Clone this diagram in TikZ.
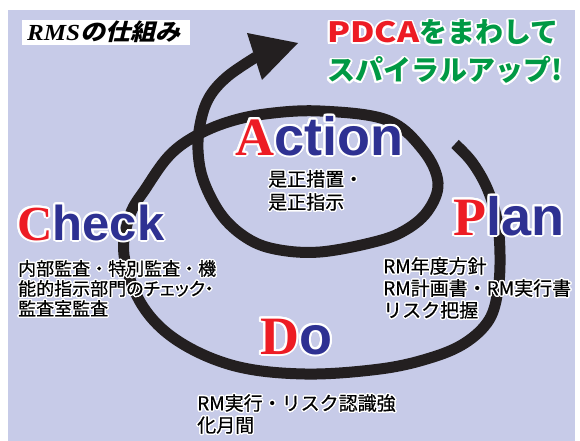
\documentclass[tikz,border=0pt]{standalone}
\usepackage{fontspec}
\usepackage{graphicx}
\usepackage{contour}
\contournumber{24}
\newfontfamily\jp{Noto Sans CJK JP}[FakeBold=0.5]
\newfontfamily\jpb{Noto Sans CJK JP}
\newfontfamily\jpp{Noto Sans CJK JP}[RawFeature=+palt, FakeBold=0.5]
\newfontfamily\jpsl{Noto Sans CJK JP}[FakeSlant=0.22]
\newfontfamily\srf{Liberation Serif}
\newfontfamily\snf{Liberation Sans}
\definecolor{bg}{RGB}{199,203,232}
\definecolor{ink}{RGB}{35,31,32}
\definecolor{rd}{RGB}{237,28,36}
\definecolor{nv}{RGB}{46,49,146}
\definecolor{gr}{RGB}{0,153,68}
\tikzset{
  biglabel/.style={anchor=base west, inner sep=0pt, font=\fontsize{54}{54}\selectfont\contourlength{2pt}},
  note/.style={anchor=north west, inner sep=0pt, align=left, text=black, font=\jp\fontsize{19}{22}\selectfont\contourlength{1.3pt}},
  slogan/.style={anchor=base west, inner sep=0pt, font=\jpb\bfseries\fontsize{28}{28}\selectfont\contourlength{1.8pt}},
  spiral/.style={line width=11pt, draw=ink, line cap=butt},
}
\begin{document}
\begin{tikzpicture}[x=1pt,y=-1pt]
\useasboundingbox (0,0) rectangle (580,441);
\fill[white] (0,0) rectangle (580,441);
\fill[bg] (8,10) rectangle (575,441);

% spiral
\draw[spiral] plot[smooth, tension=0.6] coordinates {
 (455,144) (472,162) (487,188) (497,220) (500,255) (498,290) (489,320)
 (465,343) (430,358) (380,369) (305,374) (235,366) (178,341) (142,305)
 (124,255) (130,215) (146,188) (168,157) (192,138) (225,123) (265,114)
 (320,111) (387,120) (423,150) (438,183) (427,212) (402,232) (370,243)
 (320,252) (280,250) (250,240) (223,217) (204,182) (198,150) (201,120)
 (210,96) (228,76) (256,57)};
\fill[ink] (247,33) -- (298,43) -- (262,80) -- cycle;

% title box
\node[fill=white, inner sep=0pt, minimum width=168pt, minimum height=25pt, anchor=north west] (rmsbox) at (22,20) {};
\node[anchor=base west, inner sep=0pt, font=\fontsize{23}{23}\selectfont] (rms) at (27,41) {\scalebox{1.09}[1]{\srf\bfseries\itshape RMS\jpsl\bfseries の仕組み}};

% slogan
\node[slogan] (slogan1) at (327,43)
  {{\color{rd}\contour{white}{\scalebox{1.2}[1]{PDCA}}}{\color{gr}\contour{white}{をまわして}}};
\node[slogan, text=gr] (slogan2) at (327,81) {\contour{white}{スパイラルアップ!}};

% big labels
\node[biglabel] (act) at (235,155) {{\srf\bfseries\color{rd}\contour{white}{A}}{\snf\bfseries\color{nv}\contour{white}{ction}}};
\node[biglabel, font=\fontsize{49}{49}\selectfont\contourlength{2pt}] (chk) at (17,240) {{\srf\bfseries\color{rd}\contour{white}{C}}{\snf\bfseries\color{nv}\contour{white}{heck}}};
\node[biglabel] (pln) at (453,235) {{\srf\bfseries\color{rd}\contour{white}{P}}{\snf\bfseries\color{nv}\contour{white}{lan}}};
\node[biglabel] (dol) at (260,354) {{\srf\bfseries\color{rd}\contour{white}{D}}{\snf\bfseries\color{nv}\contour{white}{o}}};

% notes
\node[note, font=\jp\fontsize{19}{23}\selectfont\contourlength{1.3pt}] (actn) at (268,170) {\contour{white}{是正措置・}\\\contour{white}{是正指示}};
\node[note, font=\jp\fontsize{18}{20}\selectfont\contourlength{1.3pt}] (chkn) at (18,260) {\contour{white}{内部監査・特別監査・機}\\{\jpp\contour{white}{能的指示部門のチェック・}}\\\contour{white}{監査室監査}};
\node[note] (plnn) at (383,257) {\contour{white}{RM年度方針}\\\contour{white}{RM計画書・RM実行書}\\\contour{white}{リスク把握}};
\node[note] (don) at (197,394) {\contour{white}{RM実行・リスク認識強}\\\contour{white}{化月間}};
\end{tikzpicture}
\end{document}
